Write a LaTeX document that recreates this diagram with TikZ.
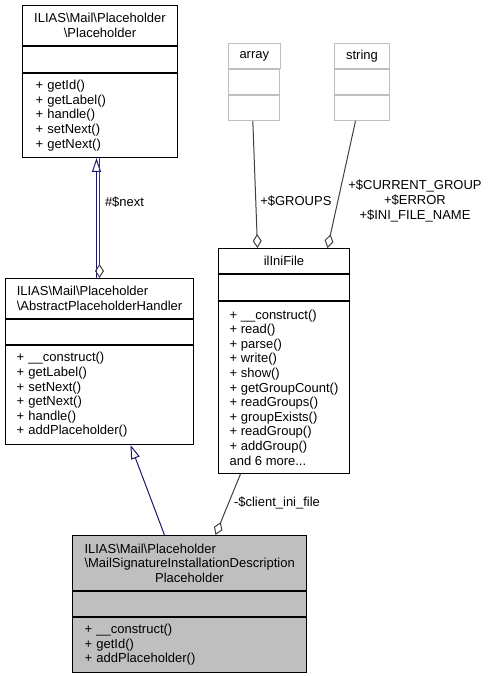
\documentclass[tikz,border=0pt]{standalone}
\usepackage{fontspec}
\setmainfont{Liberation Sans}
\usetikzlibrary{positioning,arrows.meta}
\definecolor{edgeblue}{HTML}{191970}
\definecolor{edgegray}{HTML}{404040}
\definecolor{boxgray}{HTML}{BFBFBF}

\begin{document}
\begin{tikzpicture}[x=1pt, y=-1pt,
  part/.style={rectangle, draw=black, line width=1pt, inner xsep=11pt, inner ysep=2pt, font=\fontsize{13}{14.6}\selectfont},
  ext/.style={part, draw=boxgray},
  cur/.style={part, fill=boxgray},
  inherit/.style={draw=edgeblue, line width=1pt, -{Triangle[open, length=14pt, width=9pt]}},
  uses/.style={draw=edgegray, line width=1pt, -{Diamond[open, length=14pt, width=9pt]}},
  lbl/.style={font=\fontsize{13}{14.6}\selectfont, inner sep=0pt}]

\useasboundingbox (0,0) rectangle (491,676);

\node (placeholder) [part, anchor=north west, minimum width=155pt, minimum height=40pt, align=center] at (22,5) {ILIAS\textbackslash Mail\textbackslash Placeholder\\ \textbackslash Placeholder};
\node (placeholderattr) [part, minimum width=155pt, minimum height=26pt, below=0pt of placeholder] {};
\node (placeholderops) [part, minimum width=155pt, minimum height=84pt, text width=129pt, align=left, below=0pt of placeholderattr] {+ getId()\\ + getLabel()\\ + handle()\\ + setNext()\\ + getNext()};

\node (array) [ext, anchor=north west, minimum width=51pt, minimum height=25pt] at (228,43) {array};
\node (arrayattr) [ext, minimum width=51pt, minimum height=25pt, below=0pt of array] {};
\node (arrayops) [ext, minimum width=51pt, minimum height=25pt, below=0pt of arrayattr] {};

\node (string) [ext, anchor=north west, minimum width=55pt, minimum height=25pt] at (334,43) {string};
\node (stringattr) [ext, minimum width=55pt, minimum height=25pt, below=0pt of string] {};
\node (stringops) [ext, minimum width=55pt, minimum height=25pt, below=0pt of stringattr] {};

\node (inifile) [part, anchor=north west, minimum width=131pt, minimum height=25pt] at (218,248) {ilIniFile};
\node (inifileattr) [part, minimum width=131pt, minimum height=26pt, below=0pt of inifile] {};
\node (inifileops) [part, minimum width=131pt, minimum height=172pt, inner xsep=8pt, align=left, below=0pt of inifileattr] {+ \_\_construct()\\ + read()\\ + parse()\\ + write()\\ + show()\\ + getGroupCount()\\ + readGroups()\\ + groupExists()\\ + readGroup()\\ + addGroup()\\ and 6 more...};

\node (handler) [part, anchor=north west, minimum width=188pt, minimum height=40pt, align=left] at (5,278) {ILIAS\textbackslash Mail\textbackslash Placeholder\\ \textbackslash AbstractPlaceholderHandler};
\node (handlerattr) [part, minimum width=188pt, minimum height=25pt, below=0pt of handler] {};
\node (handlerops) [part, minimum width=188pt, minimum height=99pt, text width=166pt, align=left, below=0pt of handlerattr] {+ \_\_construct()\\ + getLabel()\\ + setNext()\\ + getNext()\\ + handle()\\ + addPlaceholder()};

\node (signature) [cur, anchor=north west, minimum width=234pt, minimum height=55pt, text width=210pt, align=left] at (72,535) {ILIAS\textbackslash Mail\textbackslash Placeholder\\ \textbackslash MailSignatureInstallationDescription\\ \makebox[\hsize]{Placeholder}};
\node (signatureattr) [cur, minimum width=234pt, minimum height=25pt, below=0pt of signature] {};
\node (signatureops) [cur, minimum width=234pt, minimum height=55pt, text width=210pt, align=left, below=0pt of signatureattr] {+ \_\_construct()\\ + getId()\\ + addPlaceholder()};

\draw[inherit] ([xshift=-3pt]handler.north) -- ([xshift=-3.5pt]placeholderops.south);
\draw[uses] ([xshift=-0.5pt]placeholderops.south) -- (handler.north) node[lbl, pos=0.37, right=5pt] {\#\$next};
\draw[inherit] ([xshift=-25pt]signature.north) -- ([xshift=31pt]handlerops.south);
\draw[uses] ([xshift=-43.5pt]inifileops.south) -- ([xshift=26pt]signature.north) node[lbl, pos=0.48, right=5pt] {-\$client\_ini\_file};
\draw[uses] ([xshift=-1.5pt]arrayops.south) -- ([xshift=-26.5pt]inifile.north) node[lbl, pos=0.63, right=4pt] {+\$GROUPS};
\draw[uses] ([xshift=-6.5pt]stringops.south) -- ([xshift=43.5pt]inifile.north) node[lbl, pos=0.63, right=10pt, align=center] {+\$CURRENT\_GROUP\\ +\$ERROR\\ +\$INI\_FILE\_NAME};

\end{tikzpicture}
\end{document}
